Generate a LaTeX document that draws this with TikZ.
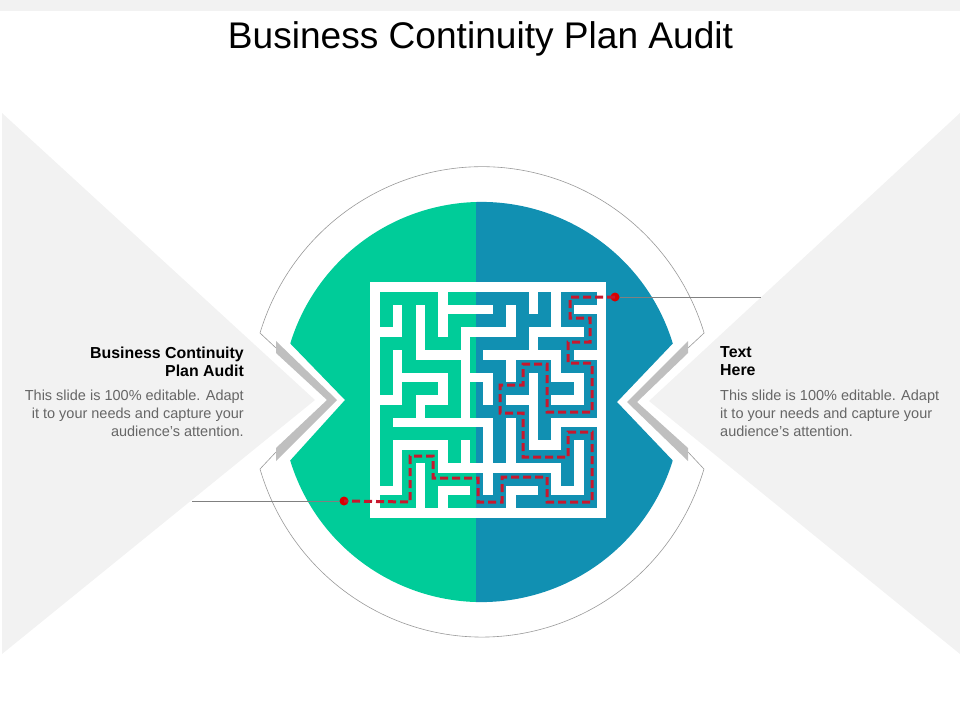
\documentclass[tikz,border=0pt]{standalone}
\usepackage{fontspec}
\setmainfont{Liberation Sans}

\definecolor{sheetgray}{HTML}{F2F2F2}
\definecolor{tealfill}{HTML}{00CC99}
\definecolor{bluefill}{HTML}{1190B2}
\definecolor{bandgray}{HTML}{BFBFBF}
\definecolor{bodygray}{HTML}{666666}
\definecolor{routered}{HTML}{C8172D}

\tikzset{
  mazewall/.style={white, line width=9.6pt, line cap=rect},
  route/.style={routered, line width=3pt, dash pattern=on 8pt off 4pt},
  enddot/.style={circle, fill=red!85!black, inner sep=0pt, minimum size=9pt},
  leader/.style={gray, line width=0.8pt},
  headtext/.style={font=\bfseries\fontsize{15.9}{18}\selectfont, inner sep=0pt},
  bodytext/.style={font=\fontsize{14.5}{18}\selectfont, text=bodygray, inner sep=0pt},
}

\begin{document}
\begin{tikzpicture}[x=1pt,y=-1pt]

  \useasboundingbox (0,0) rectangle (960,720);

  \fill[sheetgray] (0,0) rectangle (960,11);
  \fill[sheetgray] (2,113) -- (315,400) -- (2,654) -- cycle;
  \fill[sheetgray] (960,113) -- (649,401) -- (960,654) -- cycle;

  \node[font=\fontsize{37.1}{40}\selectfont, inner sep=0pt] (title) at (480.5,39) {Business Continuity Plan Audit};

  % the disc, two colours
  \begin{scope}
    \clip (0,0) rectangle (476,720);
    \fill[tealfill] (672.8,343.5) arc[start angle=-17, end angle=-163, radius=200]
      -- (345,400) -- (290.2,460.5) arc[start angle=-197, end angle=-343, radius=200]
      -- (617,402) -- cycle;
  \end{scope}
  \begin{scope}
    \clip (476,0) rectangle (960,720);
    \fill[bluefill] (672.8,343.5) arc[start angle=-17, end angle=-163, radius=200]
      -- (345,400) -- (290.2,460.5) arc[start angle=-197, end angle=-343, radius=200]
      -- (617,402) -- cycle;
  \end{scope}

  % outer line
  \draw[gray!80, line width=0.6pt] (276,348) -- (260,333)
    arc[start angle=-163, end angle=-17, x radius=232.2, y radius=235] -- (688,348);
  \draw[gray!80, line width=0.6pt] (276,452) -- (260,469)
    arc[start angle=-196.56, end angle=-343.44, x radius=231.6, y radius=235] -- (688,452);

  % chevrons
  \fill[bandgray] (276,341) -- (337,400) -- (276,461) -- (276,448) -- (327,400) -- (276,353) -- cycle;
  \fill[bandgray] (688,341) -- (627,402) -- (688,461) -- (688,448) -- (637,402) -- (688,353) -- cycle;

  % maze
  \draw[white, line width=9.6pt] (375,287) rectangle (601.5,513);
  \foreach \a/\b/\c/\d in {
    0/2/1/2, 1/1/1/2, 2/1/2/3, 2/3/4/3, 3/0/3/2, 3/1/5/1, 4/2/6/2, 6/1/6/2, 4/2/4/6,
    1/3/1/5, 0/5/1/5, 1/4/3/4, 3/4/3/5, 2/5/3/5, 2/5/2/6, 1/6/5/6,
    4/4/5/4, 5/4/5/5, 5/3/8/3, 6/3/6/4, 7/2/7/3, 7/2/9/2, 7/0/7/1, 8/0/8/2,
    9/1/10/1, 9/3/10/3, 8/3/8/4, 8/4/9/4, 9/4/9/5, 8/5/9/5, 7/4/7/7, 6/5/7/5,
    7/7/8/7, 8/6/8/7, 8/6/10/6, 5/6/5/9, 6/6/6/8, 3/8/8/8, 8/8/8/9, 8/9/9/9,
    9/7/9/9, 6/9/6/10, 6/9/7/9, 1/7/1/9, 0/9/1/9, 1/7/3/7, 3/7/3/8, 2/8/2/10,
    4/7/4/8, 3/9/4/9, 3/9/3/10}
    \draw[mazewall] ({375+22.65*\a},{287+22.6*\b}) -- ({375+22.65*\c},{287+22.6*\d});

  % way through
  \node[enddot] (outdot) at (615,297) {};
  \node[enddot] (indot) at (344,501) {};
  \coordinate (outend) at (761,297);
  \coordinate (inend) at (192,501);
  \draw[leader] (outdot) -- (outend);
  \draw[leader] (indot) -- (inend);
  \draw[route] (outdot.center) -- (570,297) -- (570,318) -- (590,318) -- (590,342) -- (568,342)
    -- (568,363) -- (592,363) -- (592,412) -- (547,412) -- (547,364) -- (523,364) -- (523,385)
    -- (500,385) -- (500,413) -- (523,413) -- (523,457) -- (568,457) -- (568,432) -- (592,432)
    -- (592,502) -- (547,502) -- (547,477) -- (502,477) -- (502,502) -- (478,502) -- (478,478)
    -- (433,478) -- (433,456) -- (410,456) -- (410,502) -- (indot.center);

  % texts
  \node[headtext, align=right, anchor=north east] (lefthead) at (244,346.5) {Business Continuity\\Plan Audit};
  \node[bodytext, align=right, anchor=north east] (leftbody) at (244,389.5) {This slide is 100\% editable. Adapt\\it to your needs and capture your\\audience\symbol{39}s attention.};
  \node[headtext, align=left, anchor=north west] (righthead) at (720,346.5) {Text\\Here};
  \node[bodytext, align=left, anchor=north west] (rightbody) at (720,389.5) {This slide is 100\% editable. Adapt\\it to your needs and capture your\\audience\symbol{39}s attention.};

\end{tikzpicture}
\end{document}
